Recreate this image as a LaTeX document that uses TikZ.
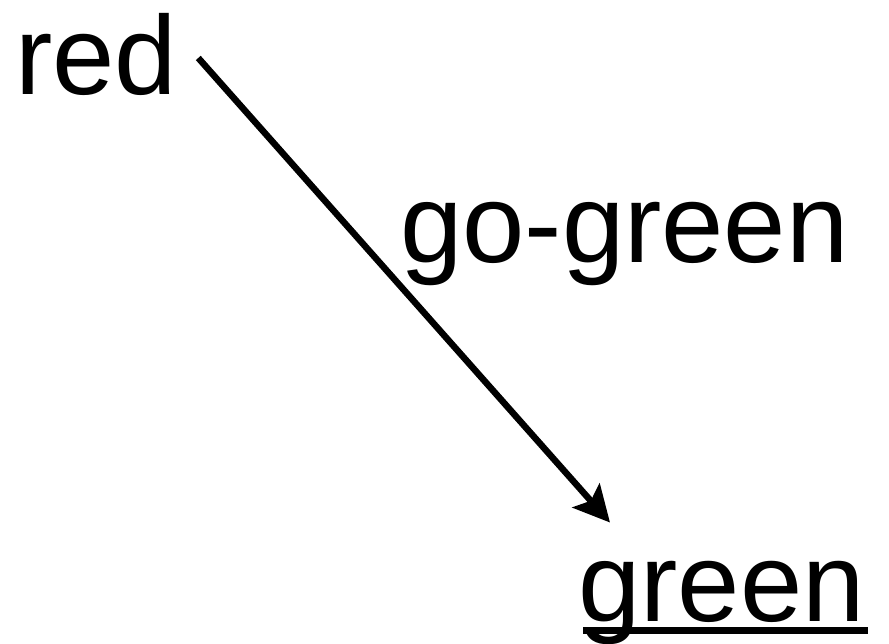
\documentclass[tikz,border=0pt]{standalone}
\usepackage{fontspec}
\setmainfont{Liberation Sans}
\usetikzlibrary{arrows.meta}
\begin{document}
\begin{tikzpicture}[x=1pt,y=1pt,
  lbl/.style={inner sep=0pt, anchor=base west, font=\fontsize{112}{120}\selectfont},
  conn/.style={line width=6.5pt, -{Stealth[length=36pt,width=36pt,inset=7pt]}}]
\useasboundingbox (0,0) rectangle (889,644);
\node[lbl] (red) at (15,549) {red};
\node[lbl] (go) at (400,381) {go-green};
\node[lbl] (green) at (578,22) {green};
\draw[line width=7pt] ([shift={(5pt,-9pt)}]green.base west) -- ([shift={(3pt,-9pt)}]green.base east);
\draw[conn] ([shift={(21pt,-3pt)}]red.east) -- ([shift={(32pt,39pt)}]green.north west);
\end{tikzpicture}
\end{document}
